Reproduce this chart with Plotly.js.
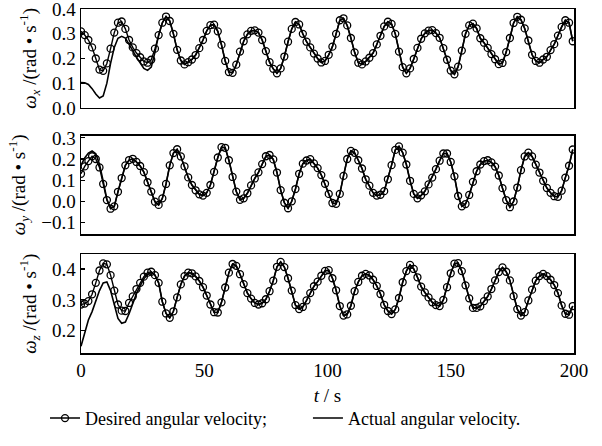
<!DOCTYPE html>
<html>
<head>
<meta charset="utf-8">
<script src="https://cdn.plot.ly/plotly-3.0.1.min.js"></script>
<style>html,body{margin:0;padding:0;background:#fff;}#chart{width:602px;height:446px;}</style>
</head>
<body>
<div id="chart"></div>
<script>
// time samples (s)
const time = [0,1.5,3,4.5,6,7.5,9,10.5,12,13.5,15,16.5,18,19.5,21,22.5,24,25.5,27,28.5,30,31.5,33,34.5,36,37.5,39,40.5,42,43.5,45,46.5,48,49.5,51,52.5,54,55.5,57,58.5,60,61.5,63,64.5,66,67.5,69,70.5,72,73.5,75,76.5,78,79.5,81,82.5,84,85.5,87,88.5,90,91.5,93,94.5,96,97.5,99,100.5,102,103.5,105,106.5,108,109.5,111,112.5,114,115.5,117,118.5,120,121.5,123,124.5,126,127.5,129,130.5,132,133.5,135,136.5,138,139.5,141,142.5,144,145.5,147,148.5,150,151.5,153,154.5,156,157.5,159,160.5,162,163.5,165,166.5,168,169.5,171,172.5,174,175.5,177,178.5,180,181.5,183,184.5,186,187.5,189,190.5,192,193.5,195,196.5,198,199.5];

// omega_x desired
const wxDesired = [0.31,0.295,0.275,0.245,0.20,0.155,0.15,0.18,0.24,0.305,0.345,0.35,0.32,0.275,0.245,0.222,0.205,0.188,0.183,0.195,0.24,0.295,0.345,0.37,0.352,0.30,0.235,0.192,0.176,0.185,0.196,0.214,0.242,0.275,0.312,0.335,0.337,0.31,0.255,0.19,0.145,0.142,0.175,0.228,0.27,0.298,0.312,0.314,0.305,0.275,0.23,0.185,0.158,0.14,0.16,0.208,0.268,0.32,0.348,
0.338,0.30,0.268,0.245,0.22,0.2,0.184,0.19,0.215,0.248,0.30,0.355,0.363,0.334,0.283,0.225,0.183,0.176,0.188,0.203,0.222,0.257,0.292,0.33,0.349,0.34,0.30,0.228,0.165,0.14,0.16,0.198,0.243,0.28,0.302,0.313,0.315,0.303,0.284,0.242,0.195,0.151,0.136,0.167,0.232,0.30,0.334,0.341,0.322,0.282,0.264,0.243,0.218,0.197,0.177,0.182,0.226,0.283,0.344,0.369,0.357,0.322,0.273,0.215,0.19,0.183,0.196,0.207,0.234,0.258,0.293,0.328,0.355,0.345,0.27];
// omega_x actual, transient part (t = 0 .. 31.5 s); afterwards it coincides with the desired curve
const wxActualStart = [0.103,0.102,0.095,0.078,0.056,0.04,0.048,0.1,0.18,0.245,0.282,0.29,0.283,0.26,0.232,0.205,0.18,0.16,0.152,0.165,0.225,0.295];

// omega_y desired
const wyDesired = [0.13,0.165,0.19,0.213,0.2,0.16,0.082,0.006,-0.035,-0.024,0.045,0.11,0.17,0.195,0.201,0.186,0.167,0.138,0.09,0.046,-0.002,-0.017,0.014,0.082,0.17,0.228,0.246,0.212,0.165,0.113,0.077,0.052,0.033,0.027,0.04,0.077,0.139,0.207,0.256,0.253,0.194,0.115,0.046,0.007,0.014,0.038,0.075,0.108,0.137,0.176,0.213,0.219,0.198,0.136,0.053,-0.007,-0.033,0.0,0.058,0.13,0.178,0.193,0.199,0.179,0.157,0.124,0.083,
0.035,-0.008,-0.012,0.035,0.12,0.2,0.238,0.229,0.194,0.155,0.104,0.074,0.04,0.027,0.031,0.048,0.104,0.171,0.243,0.26,0.23,0.174,0.097,0.035,0.014,0.028,0.047,0.08,0.112,0.152,0.192,0.226,0.226,0.186,0.118,0.025,-0.024,-0.013,0.03,0.092,0.142,0.174,0.19,0.194,0.184,0.164,0.122,0.062,0.006,-0.028,-0.001,0.065,0.147,0.212,0.23,0.212,0.173,0.136,0.097,0.063,0.04,0.024,0.021,0.05,0.112,0.168,0.245];
// omega_y actual, transient part (t = 0 .. 12 s)
const wyActualStart = [0.17,0.205,0.228,0.238,0.225,0.175,0.095,0.01,-0.032];

// omega_z desired
const wzDesired = [0.285,0.288,0.296,0.318,0.355,0.395,0.418,0.415,0.38,0.33,0.285,0.265,0.264,0.29,0.311,0.335,0.355,0.375,0.388,0.391,0.38,0.355,0.294,0.256,0.242,0.263,0.308,0.35,0.377,0.388,0.386,0.376,0.361,0.341,0.314,0.285,0.26,0.259,0.292,0.34,0.388,0.416,0.41,0.383,0.351,0.322,0.304,0.29,0.285,0.289,0.302,0.328,0.362,0.407,0.423,0.406,0.37,0.33,0.283,0.27,0.277,0.298,0.322,0.344,0.359,0.378,0.394,0.396,0.37,0.331,0.28,0.249,0.253,0.281,0.328,0.358,0.378,0.384,0.379,0.365,0.345,0.319,0.284,0.264,0.254,0.269,0.306,0.357,0.393,0.413,0.4,0.373,0.343,0.324,0.308,0.292,0.283,0.28,0.3,0.341,0.386,0.417,0.419,0.393,0.347,0.305,0.274,0.274,0.279,0.296,0.311,0.335,0.363,0.39,0.405,0.391,0.363,0.312,0.27,0.249,0.26,0.298,0.333,0.362,0.377,0.384,0.377,0.365,0.348,0.322,0.282,0.255,0.252,0.28];
// omega_z actual, transient part (t = 0 .. 30 s)
const wzActualStart = [0.15,0.195,0.235,0.262,0.295,0.33,0.355,0.358,0.33,0.28,0.24,0.224,0.228,0.255,0.288,0.32,0.345,0.368,0.382,0.389,0.38];

const legendNames = ['Desired angular velocity;\u00a0\u00a0\u00a0\u00a0\u00a0\u00a0\u00a0\u00a0', 'Actual angular velocity.'];
const yTitles = [
  '<i>ω</i><sub><i>x</i></sub> /(rad • s<sup>-1</sup>)',
  '<i>ω</i><sub><i>y</i></sub> /(rad • s<sup>-1</sup>)',
  '<i>ω</i><sub><i>z</i></sub> /(rad • s<sup>-1</sup>)'
];

function fullActual(start, desired) {
  return start.concat(desired.slice(start.length));
}

const FONT = 'Liberation Serif, Times New Roman, serif';
const panels = [
  {d: wxDesired, a: fullActual(wxActualStart, wxDesired)},
  {d: wyDesired, a: fullActual(wyActualStart, wyDesired)},
  {d: wzDesired, a: fullActual(wzActualStart, wzDesired)}
];

const traces = [];
panels.forEach((p, i) => {
  const xa = i === 0 ? 'x' : 'x' + (i + 1);
  const ya = i === 0 ? 'y' : 'y' + (i + 1);
  traces.push({
    x: time, y: p.d, xaxis: xa, yaxis: ya, type: 'scatter', mode: 'lines+markers',
    name: legendNames[0], showlegend: i === 0, legendrank: 1,
    line: {color: '#000', width: 1.4},
    marker: {symbol: 'circle-open', size: 7, color: '#000', line: {width: 1.3, color: '#000'}}
  });
  traces.push({
    x: time, y: p.a, xaxis: xa, yaxis: ya, type: 'scatter', mode: 'lines',
    name: legendNames[1], showlegend: i === 0, legendrank: 2,
    line: {color: '#000', width: 1.6}
  });
});

const axisBase = {
  showline: true, linecolor: '#000', linewidth: 1.5, mirror: true,
  showgrid: false, zeroline: false, ticklabeloverflow: 'allow',
  tickfont: {family: FONT, size: 19, color: '#000'}
};

function xAxis(anchor, showLabels) {
  return Object.assign({}, axisBase, {
    anchor: anchor, domain: [0, 1], range: [0, 200.01], tickvals: [0, 50, 100, 150, 200],
    showticklabels: showLabels, ticks: '',
    title: showLabels ? {text: '<i>t</i> / s', font: {family: FONT, size: 19, color: '#000'}, standoff: 8} : {text: ''}
  });
}
function yAxis(anchor, domain, range, tickvals, title) {
  return Object.assign({}, axisBase, {
    anchor: anchor, domain: domain, range: range, tickvals: tickvals, tickformat: '.1f',
    ticks: 'inside', ticklen: 4, tickwidth: 1.2, tickcolor: '#000',
    title: {text: title, font: {family: FONT, size: 19, color: '#000'}, standoff: 10}
  });
}

const layout = {
  width: 602, height: 446,
  margin: {l: 81, r: 28, t: 9, b: 89},
  paper_bgcolor: '#fff', plot_bgcolor: '#fff',
  font: {family: FONT, size: 18, color: '#000'},
  showlegend: true,
  legend: {orientation: 'h', x: -0.073, xanchor: 'left', y: -0.19, yanchor: 'middle',
           font: {family: FONT, size: 18, color: '#000'}, bgcolor: 'rgba(0,0,0,0)', itemwidth: 30,
           traceorder: 'normal'},
  xaxis: xAxis('y', false),
  xaxis2: xAxis('y2', false),
  xaxis3: xAxis('y3', true),
  yaxis: yAxis('x', [0.7126, 1], [0, 0.4006], [0, 0.1, 0.2, 0.3, 0.4], yTitles[0]),
  yaxis2: yAxis('x2', [0.3457, 0.6322], [-0.155, 0.311], [-0.1, 0, 0.1, 0.2, 0.3], yTitles[1]),
  yaxis3: yAxis('x3', [0, 0.2865], [0.128, 0.447], [0.2, 0.3, 0.4], yTitles[2])
};

Plotly.newPlot('chart', traces, layout, {displayModeBar: false, staticPlot: true});
</script>
</body>
</html>
